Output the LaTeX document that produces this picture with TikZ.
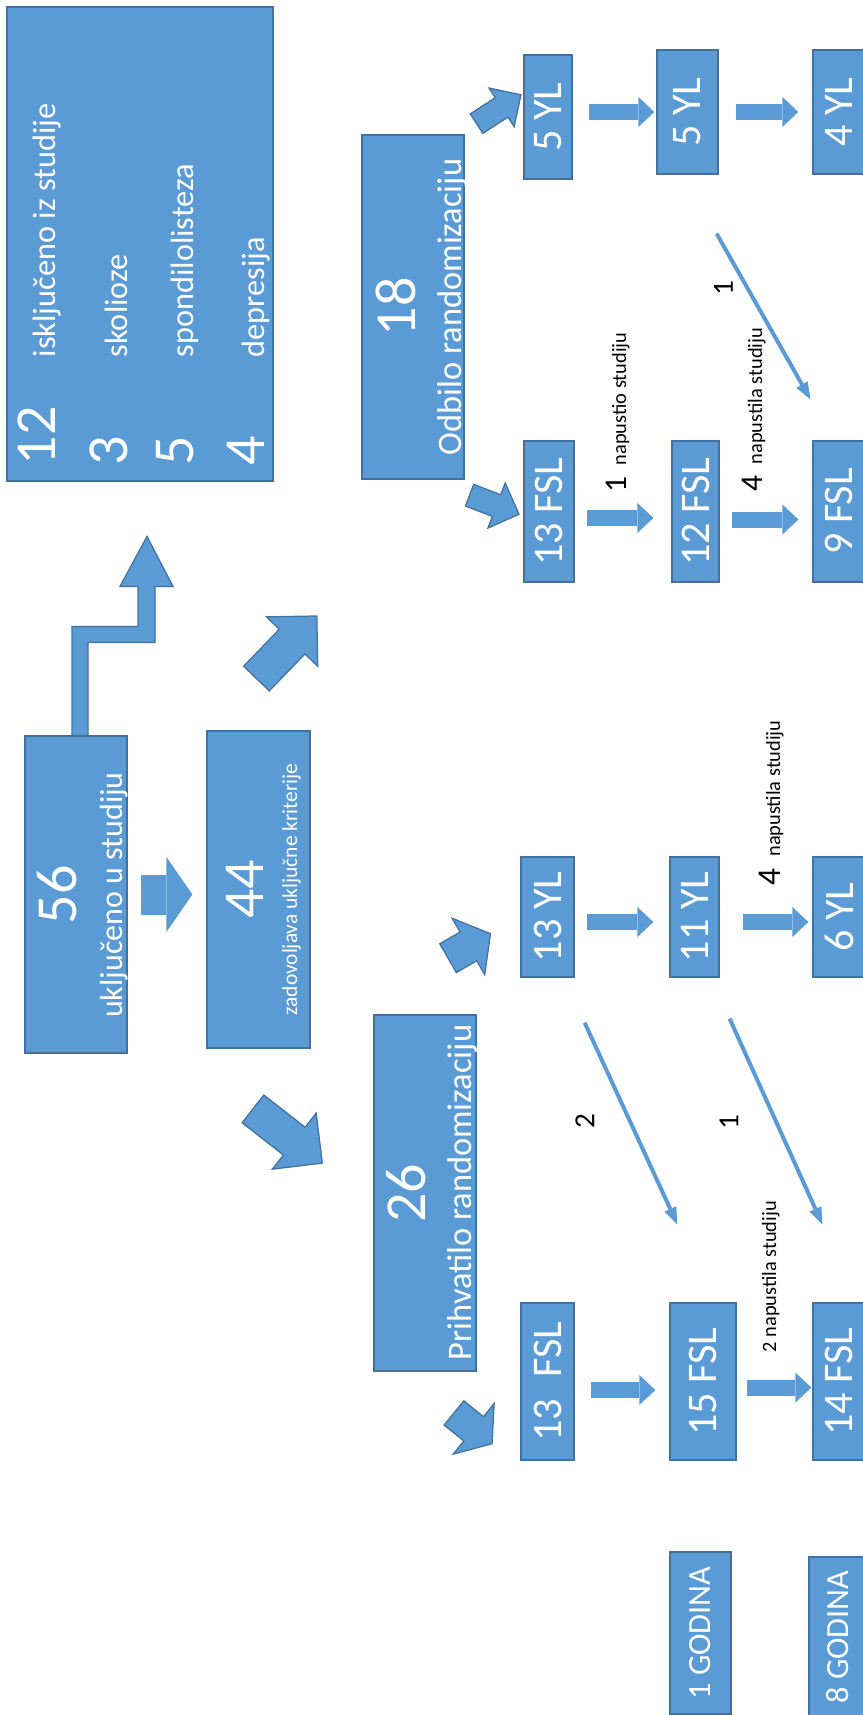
\documentclass[tikz,border=0pt]{standalone}
\usepackage{fontspec}
\usepackage{graphicx}
\setmainfont{Carlito}
\usetikzlibrary{positioning,arrows.meta,calc,shapes.arrows}
\definecolor{studyBlue}{HTML}{5B9BD5}
\definecolor{studyEdge}{HTML}{41719C}
\tikzset{
    phase/.style={draw=studyEdge,fill=studyBlue,text=white,line width=0.35pt,
        inner sep=0pt},
    arm/.style={phase,font=\fontsize{12}{14}\selectfont},
    yearbox/.style={phase,font=\fontsize{9.2}{11}\selectfont},
    bignum/.style={text=white,rotate=90,inner sep=0pt,
        font=\fontsize{16.5}{18}\selectfont},
    boxcaption/.style={text=white,rotate=90,inner sep=0pt,
        font=\fontsize{9.2}{11}\selectfont},
    dropout/.style={rotate=90,inner sep=0pt,anchor=base west,
        font=\fontsize{5.8}{7}\selectfont},
    crossnum/.style={rotate=90,inner sep=0pt,font=\fontsize{8.3}{10}\selectfont},
    stepflow/.style={draw=studyBlue,line width=0.16cm,
        -{Triangle[length=0.16cm,width=0.30cm,line width=0pt]}},
    crossflow/.style={draw=studyBlue,line width=0.04cm,
        -{Triangle[length=0.17cm,width=0.13cm,line width=0pt]}},
    splitarrow/.style={single arrow,draw=studyEdge,fill=studyBlue,line width=0.35pt,
        inner xsep=0pt,anchor=tail,single arrow tip angle=90}
}
\begin{document}
\begin{tikzpicture}
    \useasboundingbox (0,0) rectangle (8.62,-17.15);

    % excluded patients
    \node[phase,minimum width=2.66cm,minimum height=4.74cm] (excl) at (1.40,-2.44) {};
    \node[bignum,anchor=base west] (n12) at (0.55,-4.66) {12};
    \node[bignum,anchor=base west] (n3) at (1.27,-4.66) {3};
    \node[bignum,anchor=base west] (n5) at (1.93,-4.66) {5};
    \node[bignum,anchor=base west] (n4) at (2.64,-4.66) {4};
    \node[boxcaption,anchor=base west] (t12) at (0.55,-3.58) {isključeno iz studije};
    \node[boxcaption,anchor=base west] (t3) at (1.27,-3.58) {skolioze};
    \node[boxcaption,anchor=base west] (t5) at (1.93,-3.58) {spondilolisteza};
    \node[boxcaption,anchor=base west] (t4) at (2.64,-3.58) {depresija};

    % enrolment
    \node[phase,minimum width=1.02cm,minimum height=3.17cm] (inc) at (0.76,-8.945) {};
    \node[bignum] (n56) at (0.575,-8.95) {56};
    \node[boxcaption,anchor=base,font=\fontsize{9.1}{11}\selectfont] (tinc) at (1.22,-8.95)
        {uključeno u studiju};
    \node[phase,minimum width=1.03cm,minimum height=3.17cm] (sat) at (2.585,-8.895) {};
    \node[bignum] (n44) at (2.45,-8.89) {44};
    \node[boxcaption,anchor=base,font=\fontsize{6.1}{7}\selectfont] (tsat) at (2.97,-8.895)
        {zadovoljava uključne kriterije};

    % randomisation
    \node[phase,minimum width=1.02cm,minimum height=3.44cm] (odb) at (4.13,-3.07) {};
    \node[bignum] (n18) at (3.96,-3.07) {18};
    \node[boxcaption,anchor=base,font=\fontsize{9.8}{11}\selectfont] (todb) at (4.61,-3.07)
        {Odbilo randomizaciju};
    \node[phase,minimum width=1.02cm,minimum height=3.56cm] (prih) at (4.25,-11.93) {};
    \node[bignum] (n26) at (4.06,-11.93) {26};
    \node[boxcaption,anchor=base,font=\fontsize{9.8}{11}\selectfont] (tprih) at (4.71,-11.925)
        {Prihvatilo randomizaciju};

    % arms
    \node[arm,minimum width=0.48cm,minimum height=1.24cm] (yl5a) at (5.48,-1.17) {\rotatebox{90}{5 YL}};
    \node[arm,minimum width=0.61cm,minimum height=1.24cm] (yl5b) at (6.875,-1.12) {\rotatebox{90}{5 YL}};
    \node[arm,minimum width=0.52cm,minimum height=1.24cm] (yl4) at (8.39,-1.12) {\rotatebox{90}{4 YL}};
    \node[arm,minimum width=0.50cm,minimum height=1.41cm] (fsl13r) at (5.49,-5.115) {\rotatebox{90}{13 FSL}};
    \node[arm,minimum width=0.47cm,minimum height=1.41cm] (fsl12) at (6.955,-5.115) {\rotatebox{90}{12 FSL}};
    \node[arm,minimum width=0.52cm,minimum height=1.41cm] (fsl9) at (8.39,-5.115) {\rotatebox{90}{9 FSL}};
    \node[arm,minimum width=0.53cm,minimum height=1.20cm] (yl13) at (5.475,-9.17) {\rotatebox{90}{13 YL}};
    \node[arm,minimum width=0.49cm,minimum height=1.20cm] (yl11) at (6.945,-9.17) {\rotatebox{90}{11 YL}};
    \node[arm,minimum width=0.52cm,minimum height=1.20cm] (yl6) at (8.39,-9.17) {\rotatebox{90}{6 YL}};
    \node[arm,minimum width=0.53cm,minimum height=1.57cm] (fsl13l) at (5.475,-13.815) {\rotatebox{90}{13\hspace{0.5em}FSL}};
    \node[arm,minimum width=0.66cm,minimum height=1.57cm] (fsl15) at (7.03,-13.815) {\rotatebox{90}{15 FSL}};
    \node[arm,minimum width=0.52cm,minimum height=1.57cm] (fsl14) at (8.39,-13.815) {\rotatebox{90}{14 FSL}};
    \node[yearbox,minimum width=0.61cm,minimum height=1.62cm] (god1) at (7.005,-16.33) {\rotatebox{90}{1 GODINA}};
    \node[yearbox,minimum width=0.58cm,minimum height=1.60cm] (god8) at (8.38,-16.37) {\rotatebox{90}{8 GODINA}};

    % block arrows
    \draw[draw=studyEdge,fill=studyBlue,line width=0.35pt] ($(inc.north)+(-0.04,0)$)
        -- ++(0,1.09) -- ++(0.66,0) -- ++(0,0.40) -- ++(-0.18,0) -- ++(0.27,0.50)
        -- ++(0.26,-0.50) -- ++(-0.18,0) -- ++(0,-0.56) -- ++(-0.67,0) -- ++(0,-0.93) -- cycle;
    \draw[stepflow,line width=0.40cm,-{Triangle[length=0.26cm,width=0.75cm,line width=0pt]},
        shorten <=0.13cm,shorten >=0.14cm] (inc.east) -- (inc.east -| sat.west);
    \node[splitarrow,minimum height=0.87cm,inner ysep=0.172cm,single arrow head extend=0.178cm,
        rotate=46] (toodb) at (2.56,-6.79) {};
    \node[splitarrow,minimum height=0.88cm,inner ysep=0.17cm,single arrow head extend=0.18cm,
        rotate=-38] (toprih) at (2.525,-11.085) {};
    \node[splitarrow,minimum height=0.53cm,inner ysep=0.11cm,single arrow head extend=0.115cm,
        rotate=33] (toyl5) at (4.76,-1.24) {};
    \node[splitarrow,minimum height=0.53cm,inner ysep=0.11cm,single arrow head extend=0.125cm,
        rotate=-21] (tofsl13r) at (4.69,-4.95) {};
    \node[splitarrow,minimum height=0.49cm,inner ysep=0.16cm,single arrow head extend=0.16cm,
        single arrow tip angle=104,rotate=30] (toyl13) at (4.475,-9.585) {};
    \node[splitarrow,minimum height=0.49cm,inner ysep=0.15cm,single arrow head extend=0.17cm,
        single arrow tip angle=108,rotate=-39] (tofsl13l) at (4.535,-14.125) {};

    \draw[stepflow,shorten <=0.16cm,shorten >=0.02cm] ([yshift=0.05cm]yl5a.east)
        -- ([yshift=0.05cm]yl5a.east -| yl5b.west);
    \draw[stepflow,shorten <=0.17cm,shorten >=0.14cm] (yl5b) -- (yl4);
    \draw[stepflow,shorten <=0.12cm,shorten >=0.18cm] ([yshift=-0.065cm]fsl13r.east)
        -- ([yshift=-0.065cm]fsl13r.east -| fsl12.west);
    \draw[stepflow,shorten <=0.12cm,shorten >=0.14cm] ([yshift=-0.08cm]fsl12.east)
        -- ([yshift=-0.08cm]fsl12.east -| fsl9.west);
    \draw[stepflow,shorten <=0.12cm,shorten >=0.16cm] ([yshift=-0.05cm]yl13.east)
        -- ([yshift=-0.05cm]yl13.east -| yl11.west);
    \draw[stepflow,shorten <=0.23cm,shorten >=0.04cm] ([yshift=-0.05cm]yl11.east)
        -- ([yshift=-0.05cm]yl11.east -| yl6.west);
    \draw[stepflow,shorten <=0.16cm,shorten >=0.14cm] ([yshift=-0.085cm]fsl13l.east)
        -- ([yshift=-0.085cm]fsl13l.east -| fsl15.west);
    \draw[stepflow,shorten <=0.10cm,shorten >=0.01cm] ([yshift=-0.06cm]fsl15.east)
        -- ([yshift=-0.06cm]fsl15.east -| fsl14.west);

    % cross-overs
    \draw[crossflow] ($(yl5b.south east)+(-0.02,-0.59)$) -- ($(fsl9.north west)+(-0.02,0.41)$);
    \draw[crossflow] ($(yl13.south east)+(0.10,-0.45)$) -- ($(fsl15.north west)+(0.08,0.78)$);
    \draw[crossflow] ($(yl11.south east)+(0.10,-0.41)$) -- ($(fsl14.north west)+(0.10,0.78)$);
    \node[crossnum] (c1r) at (7.235,-2.885) {1};
    \node[crossnum] (c2) at (5.85,-11.215) {2};
    \node[crossnum] (c1l) at (7.29,-11.225) {1};

    % drop-outs
    \node[dropout] (d1) at (6.26,-4.93) {{\fontsize{9}{10}\selectfont 1\hspace{0.35em}}napustio studiju};
    \node[dropout] (d4r) at (7.62,-4.92) {{\fontsize{9}{10}\selectfont 4\hspace{0.35em}}napustila studiju};
    \node[dropout] (d4l) at (7.80,-8.86) {{\fontsize{9.5}{10}\selectfont 4\hspace{0.35em}}napustila studiju};
    \node[dropout] (d2) at (7.76,-13.53) {2 napustila studiju};
\end{tikzpicture}
\end{document}
